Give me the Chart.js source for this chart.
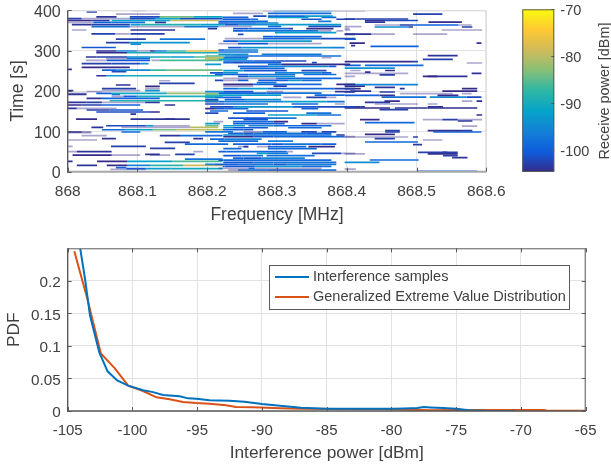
<!DOCTYPE html>
<html>
<head>
<meta charset="utf-8">
<script src="https://cdn.jsdelivr.net/npm/chart.js@4"></script>
<style>
html, body { margin: 0; padding: 0; background: #fff; width: 611px; height: 468px; overflow: hidden; }
canvas { position: absolute; filter: blur(0.35px); }
#spec { left: 0; top: 0; }
#bar { left: 510px; top: 0; }
#pdf { left: 0; top: 232px; }
</style>
</head>
<body>
<canvas id="spec" width="510" height="232"></canvas>
<canvas id="bar" width="101" height="232"></canvas>
<canvas id="pdf" width="611" height="236"></canvas>
<script>
// Tick labels
const freqTicks = [868, 868.1, 868.2, 868.3, 868.4, 868.5, 868.6];
const timeTicks = [0, 100, 200, 300, 400];
const powerTicks = [-100, -90, -80, -70];
const dbmTicks = [-105, -100, -95, -90, -85, -80, -75, -70, -65];
const pdfTicks = [0, 0.05, 0.1, 0.15, 0.2];

// Colour map of the colorbar, bottom to top
const parula = ['#352a87', '#0f5cdd', '#1481d6', '#06a4ca', '#2eb7a4', '#87bf77', '#d1bb59', '#fec832', '#f9fb0e'];
const powerRange = [-104.8, -70];

// Spectrogram segments: [time s, from kHz above 868 MHz, to kHz, power dBm]
const band300to400 = [
  [400,91,111,-106],[399,280,295,-106],[399,295,378,-95],[399,378,426,-106],[396,27,42,-103],
  [392.7,237,280,-106],[392.7,287,378,-99],[391,69,132,-106],[391,495,537,-103],
  [386,266,285,-102],[386,287,340,-99],[386,340,380,-93],
  [384,41,70,-104],[384,89,132,-102],[384,132,180,-84],[384,180,222,-91],
  [382.8,222,259,-100],[382.8,287,345,-92],[382.8,364,385,-99],
  [379.5,0,20,-103],[379.5,20,89,-106],[379.5,89,125,-102],[379.5,125,161,-92],[379.5,161,222,-102],
  [378,222,262,-101],[378,262,273,-98],[378,335,364,-101],[378,385,412,-103],
  [378.7,397,413,-103],[378.7,413,488,-103],
  [375,0,34,-105],[375,34,60,-103],[375,63,147,-92],[375,147,216,-79],[375,426,455,-104],[375,455,502,-102],
  [372.9,216,287,-99],[372.9,359,378,-97],[371,426,455,-104],[371,517,565,-104.5],
  [370.4,0,37,-106],[370.4,37,63,-100],[370.4,63,111,-98],[370.4,125,141,-104],
  [368.7,216,230,-101],[368.7,230,271,-99],[368.7,271,302,-95],
  [364.6,6,34,-104],[364.6,34,89,-103],[364.6,90,104,-93],[364.6,104,190,-89],[364.6,190,225,-92],[364.6,225,245,-101],[364.6,245,287,-95],[364.6,287,392,-93],
  [363.8,440,476,-106],[363.8,476,495,-103],[363.8,495,560,-100],[363.8,560,579,-106],
  [360.5,216,264,-106],[360.5,287,306,-99],[360.5,345,392,-102],[360,397,421,-106],
  [359.6,34,89,-98],[359.6,89,167,-106],[359.6,167,216,-97],[358.8,440,488,-95],[358.8,488,495,-103],[358.8,565,580,-103],
  [354.7,201,214,-104],[354.7,237,259,-101],[354.7,259,316,-99],[354.7,316,323,-103],[354.7,342,381,-104.5],[354.7,397,404,-106],
  [351.4,6,27,-106],[351.4,90,154,-104],[351.4,397,405,-106],[351.4,536,594,-106],
  [349,237,252,-100],[349,252,359,-97],[349,359,378,-106],[349,385,395,-106],
  [344.8,297,385,-92],[342,34,68,-103],[342,68,89,-106],[342,90,139,-103],
  [341.4,397,435,-104],[341.4,435,469,-106],[341.4,495,544,-106],[340.6,244,252,-102],[340.6,397,412,-104],
  [335,280,295,-100],[335,295,364,-100],[329.9,225,280,-106],[329.9,280,340,-100],[329.9,340,362,-98],[329.9,362,412,-102],
  [329,69,112,-103],[329,132,197,-98],[329,397,413,-100],
  [324,223,244,-101],[324,244,350,-93],[320,55,89,-103],[320,89,175,-94],
  [319,404,426,-105],[319,586,593,-104],[317.5,216,244,-106],[317.5,244,287,-101],[317.5,287,364,-106],[316.6,90,105,-95],
  [312.5,406,412,-104],[310.9,434,503,-100],[308,20,69,-101],
  [307.5,230,249,-101],[307.5,249,376,-94],[307.5,376,397,-96],[301.8,216,225,-101],[301.8,225,273,-96]
];
const band200to300 = [
  [299.3,41,70,-104],[299.3,70,99,-96],[299.3,99,118,-106],[299.3,118,125,-104],[299.3,125,142,-96],[299.3,142,170,-86],[299.3,170,216,-77],
  [296.8,216,273,-98],[295,41,85,-105],[295,85,216,-90],
  [291,216,259,-94],[291,278,364,-97],[287.7,516,559,-104],
  [286.9,197,225,-86],[286.9,225,237,-96],[286.9,237,364,-99],[286.9,364,392,-98],
  [284.4,26,41,-104],[284.4,41,85,-103],[284.4,85,118,-94],[284.4,118,147,-90],[284.4,147,182,-93],[284.4,182,197,-86],
  [282.7,197,223,-80],[282.7,223,259,-98],[282.7,364,378,-106],[281,55,85,-106],[281,85,118,-98],
  [279,197,216,-81],[279,216,257,-92],[278.6,509,552,-103],
  [276,26,56,-106],[276,56,118,-101],[276,120,132,-106],[276,132,222,-86],
  [274.5,223,266,-99],[274.5,266,299,-101],[274.5,299,342,-102],[272.8,397,495,-105],[272.8,495,502,-103],
  [270.3,223,237,-99],[270.3,237,252,-102],[270.3,252,306,-100],[270.3,350,357,-102],[269.5,572,594,-106],
  [268,20,63,-103],[268,63,104,-102],[268,104,116,-94],
  [266,197,220,-93],[266,287,306,-98],[266,306,405,-105],
  [263.7,397,420,-100],[263.7,426,510,-99],[261,244,287,-100],[261,287,374,-95],[261,374,385,-100],
  [258.7,20,89,-105],[257,397,469,-94],[256,247,311,-99],
  [253.8,0,6,-104],[252,49,70,-99],[252,70,118,-95],[252,118,142,-87],[252,142,222,-84],
  [251,405,420,-106],[251,455,469,-105],
  [250.5,223,252,-93],[250.5,252,314,-101],[250.5,335,371,-102],
  [248,63,84,-102],[247,426,434,-104],[245,204,223,-101],[245,223,244,-94],[245,297,364,-96],[245,364,378,-100],
  [243.9,397,488,-106],[243.9,579,593,-104],[241,211,259,-100],[241,259,326,-98],[241,338,385,-98],[240,447,469,-103],
  [238,41,55,-104],[238,55,82,-93],[238,82,190,-90],[238,190,222,-89],
  [236.4,244,259,-101],[236.4,259,326,-94],[236.4,397,412,-106],[236.4,509,530,-105],[236.4,516,573,-104],
  [231.5,223,299,-106],[231.5,299,392,-99],[226.5,211,223,-102],[226.5,223,244,-106],[226.5,244,259,-100],[226.5,273,316,-100],[226.5,316,335,-93],[226.5,335,364,-98],
  [225.6,131,147,-106],[221,271,299,-98],[219,131,182,-103],
  [216.6,223,266,-105],[216.6,266,364,-99],[216.6,385,412,-105],[215.7,397,502,-96],[215,69,90,-104],
  [212.4,223,266,-106],[212.4,295,314,-103],[212.4,397,426,-105],[211.6,111,132,-105],
  [209,440,469,-104],[205.8,49,98,-103],[205.8,111,132,-106],[205.8,223,244,-99],[205.8,244,287,-93],[205.8,287,383,-99],[205.8,383,412,-103],
  [205.8,397,420,-105],[205.8,476,483,-104],[205.8,565,587,-105],
  [201,0,8,-104],[201,49,104,-106],[201,111,132,-94],[200,405,435,-104],[200,537,587,-105]
];
const band100to200 = [
  [198.5,27,49,-106],[198.5,197,223,-95],[198.5,223,266,-101],[198.5,285,309,-106],[198.5,383,412,-104],[197.6,397,411,-100],[197.6,447,469,-103],
  [195,216,285,-99],[195,285,364,-98],[194,0,27,-106],[194,41,63,-100],[194,63,142,-91],[194,142,216,-82],
  [193.5,476,552,-106],[193.5,565,579,-106],[192,0,27,-104],[192,63,75,-98],
  [190,197,216,-88],[190,216,254,-92],[190,254,306,-93],[190,354,397,-99],[189.4,397,447,-100],[189.4,447,469,-104],[189.4,530,560,-104.5],
  [187,63,80,-106],[187,80,99,-100],[187,99,222,-90],[185,450,514,-98],[185,519,572,-95],[185,572,593,-102],
  [184.4,197,211,-93],[184.4,211,249,-100],[184.4,309,335,-106],[184.4,342,371,-103],[184.4,371,385,-106],
  [182,27,49,-104],[182,49,132,-100],[178.6,197,216,-102],[178.6,225,254,-100],[178.6,254,306,-95],
  [176,60,216,-89],[175,454,476,-105],[175,565,580,-106],[175,586,594,-104],
  [173.7,197,216,-102],[173.7,216,225,-99],[173.7,225,309,-96],[173.7,309,371,-92],[173.7,371,397,-97],
  [172,0,27,-104],[172,27,49,-103],[172,49,111,-106],[172,111,132,-104],[172,426,440,-104],[172,440,462,-103],
  [167.9,197,225,-102],[167.9,225,287,-98],[167.9,321,359,-99],[167.9,383,397,-106],[167.9,440,502,-106],[167.9,516,530,-106],
  [165.4,0,20,-105],[165.4,20,49,-103],[165.4,49,104,-100],[165.4,139,154,-104],
  [161,204,237,-102],[161,237,323,-94],[161,323,357,-101],[161,357,412,-102],[161,397,420,-104],[161,420,426,-103],[161,516,538,-104],
  [158,397,462,-105],[158,469,516,-104],[158,516,587,-104.5],[157,0,13,-104],[157,13,70,-106],
  [156.3,197,211,-105],[156.3,211,225,-101],[156.3,225,259,-99],[156.3,335,359,-100],
  [153.8,447,488,-103],[153,27,60,-103],[153,60,108,-101],[150.5,204,230,-99],[150.5,256,266,-101],[150.5,266,316,-101],
  [148,41,118,-102],[148,118,132,-105],[145.5,197,216,-102],[145.5,237,283,-100],[145.5,342,378,-98],[143,90,98,-104],
  [140.6,287,340,-92],[140.6,340,357,-93],[140.6,357,392,-98],[140.6,586,594,-105],
  [133,230,287,-101],[133,287,328,-97],[130.6,12,42,-105],[130.6,90,175,-104],[130.6,139,154,-103],
  [129,252,287,-101],[129,419,447,-105],[129,509,537,-106],[129,537,559,-103],[129,559,594,-106],[125.7,559,580,-103.5],
  [124,209,223,-106],[124,237,295,-99],[124,295,316,-105],[121.6,426,497,-99],
  [119,197,218,-93],[119,237,311,-100],[119,335,357,-105],[119,357,397,-106],
  [114,55,112,-102],[114,112,123,-93],[114,123,175,-106],[114,197,216,-84],[114,223,254,-93],[114,259,295,-96],[114,295,378,-99],[113,565,587,-106],
  [110,34,51,-104],[110,77,175,-106],[110,175,216,-80],[109,223,237,-94],[109,237,287,-101],[109,316,364,-99],
  [104,49,82,-99],[104,82,122,-92],[104,122,156,-84],[104,156,222,-80],[104,222,252,-100],[104,252,266,-101],
  [101.7,455,476,-103],[101.7,516,565,-104],[101.7,565,580,-103]
];
const band0to100 = [
  [99,197,237,-97],[99,252,280,-106],[99,280,314,-100],[99,335,357,-102],[99,364,385,-102],
  [98.4,0,6,-104],[98.4,6,20,-105],[98.4,20,34,-106],[98.4,77,104,-99],[98.4,455,476,-103],[98.4,524,593,-99],[96.7,0,34,-106],
  [95,230,252,-100],[95,252,266,-101],[95,266,342,-98],[95,342,378,-100],[92.6,426,469,-105],
  [91,223,254,-95],[91,254,378,-98],[91,385,397,-103],[89.3,20,56,-106],[89.3,132,161,-104],[89.3,161,222,-99],
  [86.8,223,266,-105],[86.8,266,295,-101],[86.8,295,397,-99],[86.8,397,412,-106],[86,397,488,-106],[86,495,502,-103],
  [81.9,49,69,-104],[81.9,180,194,-104],[81.9,440,469,-103],[81,204,225,-99],[81,225,278,-96],[78.6,0,42,-106],[78.6,509,537,-106],
  [76,216,273,-99],[76,287,323,-96],[73.6,426,502,-99],[72.8,139,175,-103],
  [68.6,168,230,-99],[68.6,237,292,-100],[68.6,292,309,-101],[68.6,309,364,-98],[68.6,364,385,-100],[67,495,508,-103.5],
  [62.8,0,7,-106],[62.8,62,112,-103],[62,244,259,-106],[62,252,259,-103],[62,271,290,-106],[62,287,342,-99],[62,345,383,-105],
  [57.9,118,154,-103],[57,223,249,-99],[57,287,357,-99],
  [49.6,0,13,-106],[49.6,13,63,-104],[49.6,216,228,-100],[49.6,228,314,-99],[49.6,314,323,-106],[49.6,180,194,-106],[48,502,559,-103],[48,537,544,-104],
  [45.5,271,287,-92],[45.5,287,316,-97],[45.5,350,392,-102],[45.5,392,412,-106],[44,397,426,-106],[44,516,559,-104.5],
  [43,111,132,-104],[43,154,182,-103],[41.3,7,63,-105],[41.3,63,104,-106],[41.3,118,147,-106],[40,538,559,-103],
  [39.7,223,249,-101],[39.7,249,280,-98],[39.7,285,354,-98],[35,551,573,-104],
  [33.9,237,252,-100],[33.9,252,278,-101],[33.9,278,340,-96],[31.4,168,222,-98],
  [29,433,503,-99],[28.9,216,223,-101],[28.9,223,378,-99],
  [25.6,0,7,-104],[25.6,42,85,-105],[25.6,85,150,-92],[25.6,150,222,-86],
  [23,223,266,-101],[23,266,295,-99],[23,295,385,-98],[23,397,447,-95],
  [18,197,211,-96],[18,211,244,-100],[18,244,295,-98],[18,295,314,-101],[18,314,385,-97],
  [15.7,13,42,-104],[15.7,56,85,-105],[15.7,85,118,-96],[15.7,118,166,-88],[15.7,166,222,-79],
  [13,222,225,-99],[13,225,268,-101],[13,268,335,-94],[13,335,378,-99],
  [10,69,84,-100],[8,216,259,-106],[8,259,268,-99],[8,268,364,-106],
  [7.4,84,111,-101],[7.4,111,147,-93],[7.4,147,222,-91],[6.6,397,413,-106],[5.8,61,113,-106],
  [4,230,244,-106],[4,244,287,-99],[4,287,364,-101],[4,364,385,-99],[0.8,502,587,-99]
];

// PDF curves
const sampleDbm = [-104.03,-103.67,-103.28,-102.56,-101.92,-101.18,-100.33,-99.18,-98.4,-97.64,-96.36,-95.7,-95.07,-94.05,-92.5,-91.36,-90,-88.4,-87,-85,-82,-80,-79,-78,-77.5,-77,-76,-75,-74,-73,-72.5,-71,-70.5];
const samplePdf = [0.249,0.204,0.147,0.09,0.061,0.047,0.039,0.032,0.029,0.0245,0.0225,0.0194,0.019,0.0164,0.0159,0.0143,0.0107,0.0077,0.005,0.0035,0.0033,0.0036,0.004,0.0045,0.006,0.0055,0.0045,0.0035,0.001,0.0005,0,0,0.0005];
const gevDbm = [-104.49,-103.49,-102.44,-101.36,-100.33,-99.18,-98.15,-97.13,-96.1,-95.07,-94.05,-92.77,-92,-90.7,-88.6,-87,-84,-82,-80,-77,-75,-73,-70,-68.2,-68,-65];
const gevPdf = [0.2455,0.173,0.0885,0.0655,0.039,0.0307,0.021,0.0179,0.0138,0.0123,0.0113,0.0087,0.0061,0.0056,0.0041,0.0035,0.0031,0.0028,0.0026,0.001,0.0015,0.0015,0.0015,0.0015,0.0005,0.0005];

const seriesNames = ['Interference samples', 'Generalized Extreme Value Distribution'];
const seriesColors = ['#0072bd', '#d95319'];

const TEXT = '#404040';
const FONT = 'Liberation Sans, Arial, sans-serif';
Chart.defaults.font.family = FONT;
Chart.defaults.color = TEXT;
Chart.defaults.animation = false;
Chart.defaults.responsive = false;

function hexToRgb(h) {
  return [1, 3, 5].map(i => parseInt(h.slice(i, i + 2), 16));
}

// Same map as the colorbar; anything under its range is the thin washed out rows
function powerColor(p) {
  if (p < -105) return 'rgba(53,42,135,0.42)';
  const t = Math.min(1, Math.max(0, (p - powerRange[0]) / (powerRange[1] - powerRange[0]))) * (parula.length - 1);
  const i = Math.min(parula.length - 2, Math.floor(t));
  const a = hexToRgb(parula[i]), b = hexToRgb(parula[i + 1]);
  const c = a.map((v, k) => Math.round(v + (b[k] - v) * (t - i)));
  return `rgb(${c.join(',')})`;
}

// Fixed ticks, so each axis shows only the listed labels
function fixedTicks(list) {
  return scale => { scale.ticks = list.map(v => ({ value: v })); };
}

// Pin the axis box and drop the label overhang, else the plot area moves
function pinAxis(size) {
  return s => {
    if (s.isHorizontal()) s.height = size; else s.width = size;
    s.paddingTop = s.paddingBottom = s.paddingLeft = s.paddingRight = 0;
  };
}

// MATLAB style frame with inward ticks
const framePlugin = {
  id: 'frame',
  afterDraw(chart, args, opts) {
    const { ctx, chartArea: a, scales } = chart;
    ctx.save();
    ctx.lineWidth = 1;
    ctx.strokeStyle = opts.far;
    ctx.beginPath();
    ctx.moveTo(a.left, a.top + 0.5); ctx.lineTo(a.right, a.top + 0.5);
    ctx.moveTo(a.right - 0.5, a.top); ctx.lineTo(a.right - 0.5, a.bottom);
    ctx.stroke();
    ctx.strokeStyle = opts.bottom;
    ctx.lineWidth = opts.bottomWidth;
    ctx.beginPath();
    ctx.moveTo(a.left, a.bottom); ctx.lineTo(a.right, a.bottom);
    ctx.stroke();
    ctx.strokeStyle = '#5a5a5a';
    ctx.lineWidth = 1.4;
    ctx.beginPath();
    ctx.moveTo(a.left, a.top); ctx.lineTo(a.left, a.bottom + 1);
    ctx.stroke();
    ctx.lineWidth = 1;
    ctx.beginPath();
    scales.x.ticks.forEach(t => {
      const x = Math.round(scales.x.getPixelForValue(t.value)) + 0.5;
      ctx.moveTo(x, a.bottom); ctx.lineTo(x, a.bottom - 4);
      if (opts.both) { ctx.moveTo(x, a.top); ctx.lineTo(x, a.top + 4); }
    });
    scales.y.ticks.forEach(t => {
      const y = Math.round(scales.y.getPixelForValue(t.value)) + 0.5;
      ctx.moveTo(a.left, y); ctx.lineTo(a.left + 4, y);
      if (opts.both) { ctx.moveTo(a.right, y); ctx.lineTo(a.right - 4, y); }
    });
    ctx.stroke();
    ctx.restore();
  }
};

const segments = [...band300to400, ...band200to300, ...band100to200, ...band0to100];

new Chart(document.getElementById('spec'), {
  type: 'line',
  data: {
    datasets: segments.map(s => ({
      data: [{ x: 868 + s[1] / 1000, y: s[0] }, { x: 868 + s[2] / 1000, y: s[0] }],
      borderColor: powerColor(s[3]),
      borderWidth: 1.7,
      borderCapStyle: 'butt',
      pointRadius: 0
    }))
  },
  options: {
    layout: { padding: { top: 10.4, right: 23.7 } },
    plugins: { legend: { display: false }, tooltip: { enabled: false }, frame: { far: '#dcdcdc', bottom: '#a8a8a8', bottomWidth: 2, both: false } },
    scales: {
      x: {
        type: 'linear', min: 868, max: 868.6,
        afterBuildTicks: fixedTicks(freqTicks),
        afterFit: pinAxis(60.3),
        grid: { color: '#e2e2e2', tickLength: 0 }, border: { display: false },
        ticks: { font: { size: 15.5 }, padding: 11, maxRotation: 0, callback: v => String(v) },
        title: { display: true, text: 'Frequency [MHz]', font: { size: 17.5 }, padding: { top: 7.8, bottom: 6 } }
      },
      y: {
        type: 'linear', min: 0, max: 400,
        afterBuildTicks: fixedTicks(timeTicks),
        afterFit: pinAxis(67.7),
        grid: { color: '#e2e2e2', tickLength: 0 }, border: { display: false },
        ticks: { font: { size: 16 }, padding: 7, labelOffset: 2 },
        title: { display: true, text: 'Time [s]', font: { size: 17.5 }, padding: { top: 7.5, bottom: 0 } }
      }
    }
  },
  plugins: [framePlugin]
});

// Colorbar, one floating bar over the whole range
new Chart(document.getElementById('bar'), {
  type: 'bar',
  data: {
    labels: [''],
    datasets: [{
      data: [powerRange],
      barPercentage: 1,
      categoryPercentage: 1,
      backgroundColor(c) {
        const a = c.chart.chartArea;
        if (!a) return parula[0];
        const g = c.chart.ctx.createLinearGradient(0, a.bottom, 0, a.top);
        parula.forEach((col, i) => g.addColorStop(i / (parula.length - 1), col));
        return g;
      }
    }]
  },
  options: {
    layout: { padding: { left: 12.3, top: 9.3 } },
    plugins: { legend: { display: false }, tooltip: { enabled: false } },
    scales: {
      x: { display: true, afterFit: pinAxis(60), grid: { display: false }, border: { display: false }, ticks: { display: false } },
      y: {
        position: 'right', min: powerRange[0], max: powerRange[1],
        afterBuildTicks: fixedTicks(powerTicks),
        afterFit: pinAxis(56.7),
        grid: { display: false, tickLength: 0 }, border: { display: false },
        ticks: { font: { size: 14.5 }, padding: 6, labelOffset: 2 }
      }
    }
  },
  plugins: [{
    id: 'barFrame',
    afterDraw(chart) {
      const { ctx, chartArea: a, scales } = chart;
      ctx.save();
      ctx.strokeStyle = '#5a5a5a';
      ctx.strokeRect(a.left + 0.5, a.top + 0.5, a.width - 1, a.height - 1);
      ctx.beginPath();
      scales.y.ticks.forEach(t => {
        const y = Math.round(scales.y.getPixelForValue(t.value)) + 0.5;
        ctx.moveTo(a.right, y); ctx.lineTo(a.right - 3, y);
      });
      ctx.stroke();
      // right hand title reads bottom to top here, Chart.js would turn it the other way
      ctx.translate(95.5, 91);
      ctx.rotate(-Math.PI / 2);
      ctx.fillStyle = TEXT;
      ctx.font = `14.4px ${FONT}`;
      ctx.textAlign = 'center';
      ctx.textBaseline = 'middle';
      ctx.fillText('Receive power [dBm]', 0, 0);
      ctx.restore();
    }
  }]
});

new Chart(document.getElementById('pdf'), {
  type: 'line',
  data: {
    datasets: [
      { label: seriesNames[0], data: sampleDbm.map((x, i) => ({ x, y: samplePdf[i] })), borderColor: seriesColors[0], borderWidth: 2, pointRadius: 0, tension: 0 },
      { label: seriesNames[1], data: gevDbm.map((x, i) => ({ x, y: gevPdf[i] })), borderColor: seriesColors[1], borderWidth: 2, pointRadius: 0, tension: 0 }
    ]
  },
  options: {
    layout: { padding: { top: 16.3, right: 25.3 } },
    plugins: { legend: { display: false }, tooltip: { enabled: false }, frame: { far: '#5a5a5a', bottom: '#5a5a5a', bottomWidth: 1.4, both: true } },
    scales: {
      x: {
        type: 'linear', min: -105, max: -65,
        afterBuildTicks: fixedTicks(dbmTicks),
        afterFit: pinAxis(57),
        grid: { color: '#e2e2e2', tickLength: 0 }, border: { display: false },
        ticks: { font: { size: 15 }, padding: 11, maxRotation: 0 },
        title: { display: true, text: 'Interference power [dBm]', font: { size: 17.3 }, padding: { top: 5, bottom: 4 } }
      },
      y: {
        type: 'linear', min: 0, max: 0.25,
        afterBuildTicks: fixedTicks(pdfTicks),
        afterFit: pinAxis(67.7),
        grid: { color: '#e2e2e2', tickLength: 0 }, border: { display: false },
        ticks: { font: { size: 15.3 }, padding: 7, labelOffset: 2, callback: v => String(v) },
        title: { display: true, text: 'PDF', font: { size: 17.3 }, padding: { top: 3.5, bottom: 0 } }
      }
    }
  },
  plugins: [framePlugin, {
    id: 'boxLegend',
    afterDraw(chart) {
      const { ctx } = chart;
      ctx.save();
      ctx.fillStyle = '#fff';
      ctx.fillRect(269.5, 33.5, 300, 44);
      ctx.strokeStyle = '#5a5a5a';
      ctx.strokeRect(269.5, 33.5, 300, 44);
      ctx.font = `14.5px ${FONT}`;
      ctx.textBaseline = 'middle';
      seriesNames.forEach((name, i) => {
        const y = 45 + i * 20;
        ctx.strokeStyle = seriesColors[i];
        ctx.lineWidth = 2;
        ctx.beginPath();
        ctx.moveTo(275, y); ctx.lineTo(309, y);
        ctx.stroke();
        ctx.fillStyle = TEXT;
        ctx.fillText(name, 313, y);
      });
      ctx.restore();
    }
  }]
});
</script>
</body>
</html>
